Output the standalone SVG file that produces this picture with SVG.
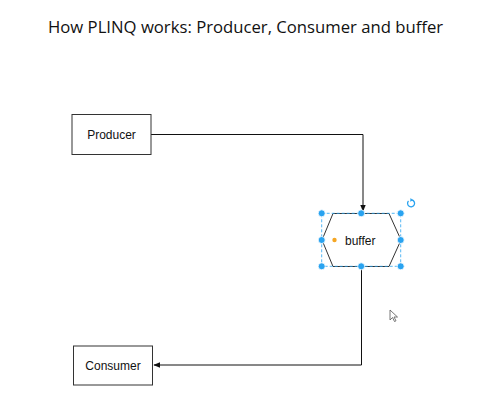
<svg xmlns="http://www.w3.org/2000/svg" width="503" height="414" viewBox="0 0 503 414">
<style>
.box{fill:#fff;stroke:#333;stroke-width:1}
.lbl{font-family:"Liberation Sans",Arial,sans-serif;font-size:12px;fill:#111}
.edge{fill:none;stroke:#111;stroke-width:1}
.h{fill:#29a3f0;stroke:#fff;stroke-width:0.8}
</style>
<defs>
<marker id="arr" viewBox="0 0 10 10" refX="9" refY="5" markerWidth="7" markerHeight="7" orient="auto" markerUnits="userSpaceOnUse">
<path d="M0,1 L10,5 L0,9 z" fill="#111"/>
</marker>
</defs>
<rect width="503" height="414" fill="#fff"/>
<text x="48" y="33" font-family="'Open Sans','Liberation Sans',sans-serif" font-size="16.7" fill="#111">How PLINQ works: Producer, Consumer and buffer</text>
<g id="edges">
<path class="edge" d="M151,134.5 H363 V211" marker-end="url(#arr)"/>
<path class="edge" d="M361.5,267 V365 H154" marker-end="url(#arr)"/>
</g>
<g id="producer">
<rect class="box" x="72" y="114.5" width="79" height="40"/>
<text class="lbl" x="111.5" y="138.5" text-anchor="middle">Producer</text>
</g>
<g id="consumer">
<rect class="box" x="73.5" y="346" width="79" height="39"/>
<text class="lbl" x="113" y="369.5" text-anchor="middle">Consumer</text>
</g>
<g id="buffer">
<polygon points="333,213.5 389,213.5 401,240 389,266.5 333,266.5 322,240" fill="#fff" stroke="#333" stroke-width="1"/>
<rect x="321.7" y="213.3" width="79" height="53" fill="none" stroke="#29a3f0" stroke-width="0.8" stroke-dasharray="3,2"/>
<text class="lbl" x="345" y="244.5" font-size="12.5">buffer</text>
<circle cx="334.5" cy="240" r="2.2" fill="#f5a623"/>
<circle class="h" cx="321.7" cy="213.3" r="3.5"/>
<circle class="h" cx="361.2" cy="213.3" r="3.5"/>
<circle class="h" cx="400.7" cy="213.3" r="3.5"/>
<circle class="h" cx="321.7" cy="240" r="3.5"/>
<circle class="h" cx="400.7" cy="240" r="3.5"/>
<circle class="h" cx="321.7" cy="266.3" r="3.5"/>
<circle class="h" cx="361.2" cy="266.3" r="3.5"/>
<circle class="h" cx="400.7" cy="266.3" r="3.5"/>
<path d="M408.5,201 A3.5,3.5 0 1 0 412,200" fill="none" stroke="#29a3f0" stroke-width="1.3"/>
<path d="M410.5,198 L413,200.2 L410.2,201.8 z" fill="#29a3f0"/>
</g>
<path d="M390,310 L390,320 L392.5,317.5 L394.5,321.5 L396,320.8 L394,317 L397.5,317 z" fill="#fff" stroke="#555" stroke-width="0.8"/>
</svg>
